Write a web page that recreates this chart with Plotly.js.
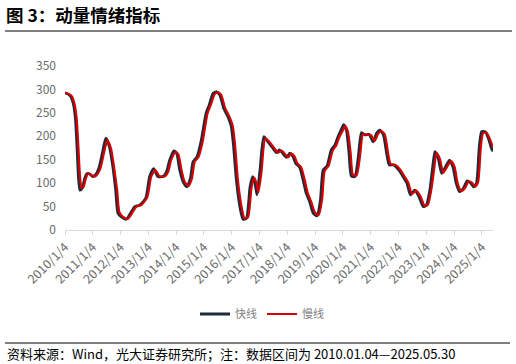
<!DOCTYPE html>
<html>
<head>
<meta charset="utf-8">
<script src="https://cdn.plot.ly/plotly-3.0.1.min.js"></script>
<style>html,body{margin:0;padding:0;background:#fff;}#chart{width:516px;height:364px;}</style>
</head>
<body>
<div id="chart"></div>
<script>
const fastDates = ["2010-01-04","2010-02-15","2010-03-20","2010-04-20","2010-05-20","2010-06-10","2010-07-01","2010-07-20","2010-08-20","2010-09-20","2010-10-20","2010-11-20","2011-01-05","2011-02-10","2011-03-25","2011-05-10","2011-06-25","2011-08-10","2011-09-25","2011-11-01","2011-12-01","2012-01-15","2012-03-20","2012-05-25","2012-07-10","2012-09-10","2012-12-01","2013-01-20","2013-03-15","2013-05-10","2013-07-15","2013-08-30","2013-10-10","2013-12-05","2014-01-10","2014-02-20","2014-04-05","2014-05-25","2014-07-10","2014-08-15","2014-10-05","2014-12-01","2015-02-01","2015-03-15","2015-05-05","2015-06-20","2015-08-01","2015-09-20","2015-11-15","2015-12-25","2016-01-25","2016-03-05","2016-04-20","2016-06-01","2016-07-15","2016-09-01","2016-10-05","2016-11-05","2016-12-01","2017-01-10","2017-03-01","2017-04-25","2017-07-01","2017-08-15","2017-09-20","2017-10-20","2017-12-25","2018-02-05","2018-03-15","2018-04-25","2018-06-15","2018-07-30","2018-09-10","2018-10-25","2018-12-10","2019-01-30","2019-03-15","2019-04-20","2019-06-10","2019-08-05","2019-09-20","2019-11-01","2019-12-15","2020-01-15","2020-02-20","2020-03-25","2020-04-25","2020-06-10","2020-07-25","2020-09-05","2020-10-20","2020-12-15","2021-02-05","2021-03-20","2021-05-05","2021-06-20","2021-08-01","2021-09-05","2021-11-01","2022-01-10","2022-03-05","2022-04-25","2022-06-10","2022-08-05","2022-10-01","2022-11-25","2023-01-05","2023-02-20","2023-03-30","2023-04-28","2023-06-10","2023-07-25","2023-09-05","2023-11-05","2023-12-20","2024-02-01","2024-03-15","2024-05-05","2024-06-25","2024-08-05","2024-09-20","2024-10-25","2024-12-01","2025-01-01","2025-02-15","2025-03-30","2025-05-10","2025-05-30"];
const fastValues = [293,290,285,272,240,180,110,85,90,110,120,120,114,118,132,164,196,178,135,85,36,28,23,39,50,53,68,114,131,114,114,124,149,169,164,128,103,92,110,146,156,192,249,267,292,295,288,260,242,224,185,107,50,23,25,92,114,100,75,128,199,188,174,165,171,167,155,164,158,142,134,107,78,60,36,30,64,128,137,171,181,199,215,225,213,164,115,114,156,208,203,204,188,206,213,203,164,139,139,128,114,100,75,85,71,50,53,85,135,167,153,121,132,149,135,100,82,89,105,101,92,100,178,210,210,196,174,168];

const slowDates = ["2010-01-04","2010-03-01","2010-04-05","2010-05-05","2010-06-05","2010-06-28","2010-07-20","2010-08-10","2010-09-05","2010-10-05","2010-11-05","2010-12-10","2011-01-25","2011-03-01","2011-04-15","2011-05-30","2011-07-15","2011-08-30","2011-10-10","2011-11-20","2011-12-20","2012-02-05","2012-04-10","2012-06-15","2012-07-30","2012-10-01","2012-12-20","2013-02-10","2013-04-05","2013-05-30","2013-08-05","2013-09-20","2013-10-30","2013-12-25","2014-02-01","2014-03-15","2014-04-25","2014-06-15","2014-07-30","2014-09-05","2014-10-25","2014-12-20","2015-02-20","2015-04-05","2015-05-25","2015-07-10","2015-08-20","2015-10-10","2015-12-05","2016-01-15","2016-02-15","2016-03-25","2016-05-10","2016-06-20","2016-08-05","2016-09-20","2016-10-25","2016-11-25","2016-12-20","2017-01-30","2017-03-20","2017-05-15","2017-07-20","2017-09-05","2017-10-10","2017-11-10","2018-01-15","2018-02-25","2018-04-05","2018-05-15","2018-07-05","2018-08-20","2018-09-30","2018-11-15","2018-12-30","2019-02-20","2019-04-05","2019-05-10","2019-06-30","2019-08-25","2019-10-10","2019-11-20","2020-01-05","2020-02-05","2020-03-10","2020-04-15","2020-05-15","2020-07-01","2020-08-15","2020-09-25","2020-11-10","2021-01-05","2021-02-25","2021-04-10","2021-05-25","2021-07-10","2021-08-20","2021-09-25","2021-11-20","2022-01-30","2022-03-25","2022-05-15","2022-06-30","2022-08-25","2022-10-20","2022-12-15","2023-01-25","2023-03-10","2023-04-20","2023-05-18","2023-06-30","2023-08-15","2023-09-25","2023-11-25","2024-01-10","2024-02-20","2024-04-05","2024-05-25","2024-07-15","2024-08-25","2024-10-10","2024-11-15","2024-12-20","2025-01-20","2025-03-05","2025-04-20","2025-05-30"];
const slowValues = [293,290,285,272,240,180,115,90,92,110,120,118,114,118,132,164,192,175,135,85,38,28,24,39,50,53,70,114,128,115,114,124,149,166,162,128,103,94,110,146,156,190,249,267,290,294,288,260,242,224,185,107,52,25,27,90,112,100,80,125,195,188,174,165,170,167,155,163,158,142,134,107,78,60,38,32,64,126,137,170,181,199,213,222,210,164,118,116,156,205,203,203,190,205,211,203,164,140,139,128,114,100,77,84,72,51,54,85,133,164,153,122,132,147,135,100,83,89,104,101,93,102,175,207,208,194,176];

const tickDates = ["2010-01-04","2011-01-04","2012-01-04","2013-01-04","2014-01-04","2015-01-04","2016-01-04","2017-01-04","2018-01-04","2019-01-04","2020-01-04","2021-01-04","2022-01-04","2023-01-04","2024-01-04","2025-01-04"];
const tickLabels = ["2010/1/4","2011/1/4","2012/1/4","2013/1/4","2014/1/4","2015/1/4","2016/1/4","2017/1/4","2018/1/4","2019/1/4","2020/1/4","2021/1/4","2022/1/4","2023/1/4","2024/1/4","2025/1/4"];
const seriesNames = ["快线","慢线"];

const L = 65, R = 493, T = 66, B = 230;
const px = x => (x - L) / (R - L);
const py = y => (B - y) / (B - T);
const cjk = '"Noto Sans CJK SC", "Noto Sans", sans-serif';

const traces = [
  {x: fastDates, y: fastValues, name: seriesNames[0], type: 'scatter', mode: 'lines',
   line: {color: '#1f2a3a', width: 2.8, shape: 'spline', smoothing: 0.6}},
  {x: slowDates, y: slowValues, name: seriesNames[1], type: 'scatter', mode: 'lines',
   line: {color: '#d60000', width: 2.2, shape: 'spline', smoothing: 0.6}}
];

const layout = {
  width: 516, height: 364,
  margin: {l: L, r: 516 - R, t: T, b: 364 - B},
  paper_bgcolor: '#fff', plot_bgcolor: '#fff',
  showlegend: true,
  legend: {orientation: 'h', x: px(262), xanchor: 'center', y: py(314), yanchor: 'middle',
           font: {family: cjk, size: 11, color: '#7f7f7f'}, itemwidth: 30, tracegroupgap: 0},
  xaxis: {type: 'date', range: ['2010-01-04', '2025-05-30'], tickmode: 'array',
          tickvals: tickDates, ticktext: tickLabels, tickangle: -45,
          showgrid: false, zeroline: false, showline: true, linecolor: '#d9d9d9', linewidth: 1,
          ticks: 'outside', ticklen: 4, tickcolor: '#d9d9d9',
          tickfont: {family: cjk, size: 12.5, color: '#6b6b6b'}},
  yaxis: {range: [0, 350], tickmode: 'linear', tick0: 0, dtick: 50,
          showgrid: false, zeroline: false, showline: false, ticks: '',
          ticklabelstandoff: 8,
          tickfont: {family: cjk, size: 12, color: '#6b6b6b'}},
  shapes: [
    {type: 'line', xref: 'paper', yref: 'paper', x0: px(5), x1: px(512), y0: py(31), y1: py(31),
     line: {color: '#000', width: 1}},
    {type: 'line', xref: 'paper', yref: 'paper', x0: px(5), x1: px(510), y0: py(343), y1: py(343),
     line: {color: '#000', width: 1}}
  ],
  annotations: [
    {text: '<b>图 3：动量情绪指标</b>', xref: 'paper', yref: 'paper', x: px(4), y: py(15),
     xanchor: 'left', yanchor: 'middle', showarrow: false,
     font: {family: cjk, size: 17.5, color: '#000'}},
    {text: '资料来源：Wind，光大证券研究所；注：数据区间为 2010.01.04—2025.05.30', xref: 'paper', yref: 'paper',
     x: px(5), y: py(353), xanchor: 'left', yanchor: 'middle', showarrow: false,
     font: {family: cjk, size: 13, color: '#000'}}
  ]
};

Plotly.newPlot('chart', traces, layout, {displayModeBar: false, staticPlot: true});
</script>
</body>
</html>
